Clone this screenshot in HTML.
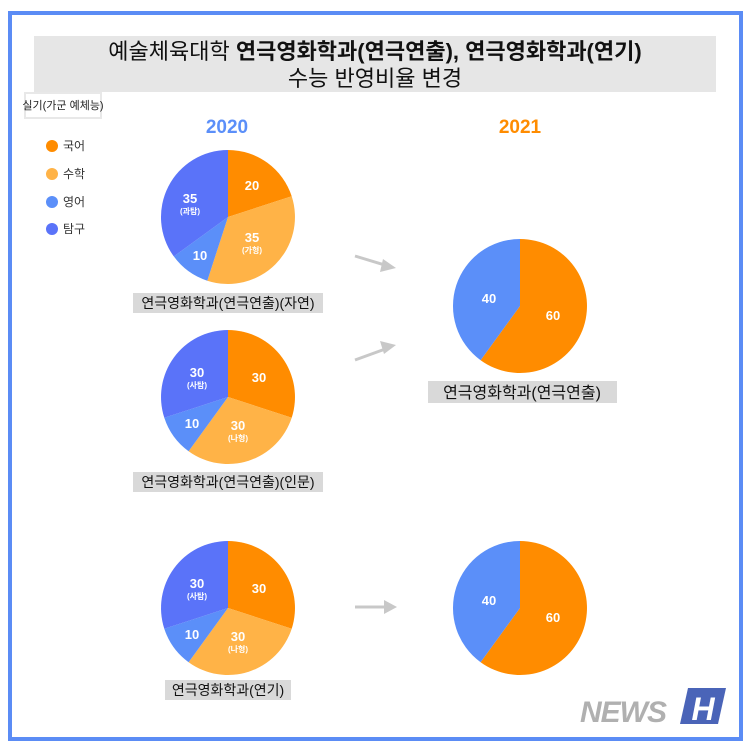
<!DOCTYPE html><html><head><meta charset="utf-8"><style>body{margin:0;background:#fff}svg{display:block}text{font-family:"Liberation Sans","Noto Sans CJK KR",sans-serif}</style></head><body>
<svg width="751" height="751" viewBox="0 0 751 751">
<rect x="0" y="0" width="751" height="751" fill="#fff"/>
<rect x="10" y="13" width="731" height="726" fill="none" stroke="#5b8cf5" stroke-width="4"/>
<rect x="34" y="36" width="682" height="56" fill="#e6e6e6"/>
<text x="375" y="59" font-size="22" text-anchor="middle" fill="#111">예술체육대학 <tspan font-weight="bold">연극영화학과(연극연출), 연극영화학과(연기)</tspan></text>
<text x="375" y="86" font-size="22" text-anchor="middle" fill="#111">수능 반영비율 변경</text>
<rect x="25" y="93" width="76" height="25" fill="#fff" stroke="#e8e8e8" stroke-width="2"/>
<text x="63" y="109" font-size="11" text-anchor="middle" fill="#222">실기(가군 예체능)</text>
<text x="227" y="133" font-size="19" font-weight="bold" text-anchor="middle" fill="#5b8ff9">2020</text>
<text x="520" y="133" font-size="19" font-weight="bold" text-anchor="middle" fill="#ff8c00">2021</text>
<g font-size="12" fill="#333">
<circle cx="52" cy="146" r="6" fill="#ff8c00"/><text x="63" y="150">국어</text>
<circle cx="52" cy="174" r="6" fill="#ffb347"/><text x="63" y="178">수학</text>
<circle cx="52" cy="202" r="6" fill="#5b8ff9"/><text x="63" y="206">영어</text>
<circle cx="52" cy="229" r="6" fill="#5a73f9"/><text x="63" y="233">탐구</text>
</g>
<path d="M228 217 L228 150 A67 67 0 0 1 291.7 196.3Z" fill="#ff8c00"/>
<path d="M228 217 L291.7 196.3 A67 67 0 0 1 207.3 280.7Z" fill="#ffb347"/>
<path d="M228 217 L207.3 280.7 A67 67 0 0 1 173.8 256.4Z" fill="#5b8ff9"/>
<path d="M228 217 L173.8 256.4 A67 67 0 0 1 228 150Z" fill="#5a73f9"/>
<g fill="#fff" font-weight="bold" text-anchor="middle">
<text x="252" y="190" font-size="13">20</text>
<text x="252" y="242" font-size="13">35</text><text x="252" y="253" font-size="8">(가형)</text>
<text x="200" y="260" font-size="13">10</text>
<text x="190" y="203" font-size="13">35</text><text x="190" y="214" font-size="8">(과탐)</text>
</g>
<path d="M228 397 L228 330 A67 67 0 0 1 291.7 417.7Z" fill="#ff8c00"/>
<path d="M228 397 L291.7 417.7 A67 67 0 0 1 188.6 451.2Z" fill="#ffb347"/>
<path d="M228 397 L188.6 451.2 A67 67 0 0 1 164.3 417.7Z" fill="#5b8ff9"/>
<path d="M228 397 L164.3 417.7 A67 67 0 0 1 228 330Z" fill="#5a73f9"/>
<g fill="#fff" font-weight="bold" text-anchor="middle">
<text x="259" y="382" font-size="13">30</text>
<text x="238" y="430" font-size="13">30</text><text x="238" y="441" font-size="8">(나형)</text>
<text x="192" y="428" font-size="13">10</text>
<text x="197" y="377" font-size="13">30</text><text x="197" y="388" font-size="8">(사탐)</text>
</g>
<path d="M228 608 L228 541 A67 67 0 0 1 291.7 628.7Z" fill="#ff8c00"/>
<path d="M228 608 L291.7 628.7 A67 67 0 0 1 188.6 662.2Z" fill="#ffb347"/>
<path d="M228 608 L188.6 662.2 A67 67 0 0 1 164.3 628.7Z" fill="#5b8ff9"/>
<path d="M228 608 L164.3 628.7 A67 67 0 0 1 228 541Z" fill="#5a73f9"/>
<g fill="#fff" font-weight="bold" text-anchor="middle">
<text x="259" y="593" font-size="13">30</text>
<text x="238" y="641" font-size="13">30</text><text x="238" y="652" font-size="8">(나형)</text>
<text x="192" y="639" font-size="13">10</text>
<text x="197" y="588" font-size="13">30</text><text x="197" y="599" font-size="8">(사탐)</text>
</g>
<path d="M520 306 L520 239 A67 67 0 1 1 480.6 360.2Z" fill="#ff8c00"/>
<path d="M520 306 L480.6 360.2 A67 67 0 0 1 520 239Z" fill="#5b8ff9"/>
<path d="M520 608 L520 541 A67 67 0 1 1 480.6 662.2Z" fill="#ff8c00"/>
<path d="M520 608 L480.6 662.2 A67 67 0 0 1 520 541Z" fill="#5b8ff9"/>
<g fill="#fff" font-weight="bold" text-anchor="middle" font-size="13">
<text x="489" y="303">40</text><text x="553" y="320">60</text>
<text x="489" y="605">40</text><text x="553" y="622">60</text>
</g>
<rect x="133" y="293" width="190" height="20" fill="#d9d9d9"/>
<text x="228" y="308" font-size="14" text-anchor="middle" fill="#111">연극영화학과(연극연출)(자연)</text>
<rect x="133" y="472" width="190" height="20" fill="#d9d9d9"/>
<text x="228" y="487" font-size="14" text-anchor="middle" fill="#111">연극영화학과(연극연출)(인문)</text>
<rect x="165" y="680" width="126" height="20" fill="#d9d9d9"/>
<text x="228" y="695" font-size="14" text-anchor="middle" fill="#111">연극영화학과(연기)</text>
<rect x="428" y="381" width="189" height="22" fill="#d9d9d9"/>
<text x="522" y="398" font-size="16" text-anchor="middle" fill="#111">연극영화학과(연극연출)</text>
<g stroke="#c8c8c8" stroke-width="3" fill="#c8c8c8">
<line x1="355" y1="256" x2="388" y2="266"/><polygon points="396,268 383,259 380,272" stroke="none"/>
<line x1="355" y1="360" x2="388" y2="348"/><polygon points="396,345 380,341 384,354" stroke="none"/>
<line x1="355" y1="607" x2="388" y2="607"/><polygon points="397,607 384,600 384,614" stroke="none"/>
</g>
<text x="580" y="722" font-size="30" font-weight="bold" font-style="italic" fill="#b0b0b0" letter-spacing="-1">NEWS</text>
<polygon points="688,688 726,688 718,724 680,724" fill="#4a64b8"/>
<text x="703" y="720" font-size="32" font-weight="bold" font-style="italic" text-anchor="middle" fill="#fff">H</text>
</svg></body></html>
